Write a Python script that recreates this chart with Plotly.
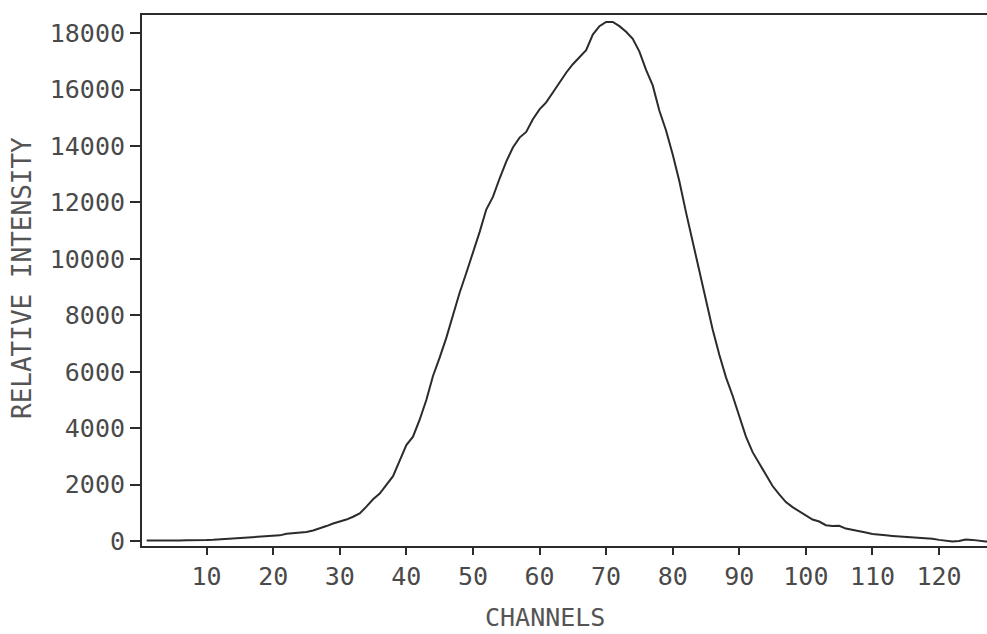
import plotly.graph_objects as go

channels = list(range(1, 129))
intensity = [
    20, 15, 20, 10, 15, 20, 25, 20, 30, 35,
    45, 60, 70, 80, 100, 110, 130, 150, 165, 175,
    200, 260, 280, 295, 320, 370, 440, 530, 620, 680,
    760, 860, 980, 1220, 1480, 1680, 2000, 2300, 2850, 3400,
    3700, 4300, 5000, 5850, 6500, 7200, 8000, 8800, 9500, 10200,
    10950, 11750, 12200, 12850, 13450, 13950, 14300, 14500, 14950, 15300,
    15550, 15900, 16250, 16600, 16900, 17150, 17400, 17950, 18250, 18400,
    18400, 18250, 18050, 17800, 17350, 16700, 16150, 15250, 14550, 13700,
    12750, 11650, 10600, 9550, 8550, 7500, 6600, 5800, 5150, 4400,
    3700, 3150, 2750, 2350, 1950, 1650, 1380, 1200, 1050, 900,
    760, 690, 560, 530, 540, 440, 400, 340, 300, 250,
    215, 200, 180, 165, 150, 140, 120, 100, 80, 40,
    10, -20, 0, 50, 40, 0, -20, -10,
]

x_ticks = list(range(10, 130, 10))
y_ticks = list(range(0, 20000, 2000))

FONT = "DejaVu Sans Mono"
INK = "#2b2b2b"
TXT = "#4a4a4a"

fig = go.Figure()
fig.add_trace(go.Scatter(
    x=channels, y=intensity, mode="lines",
    line=dict(color=INK, width=2), showlegend=False,
))

fig.update_layout(
    width=987, height=634,
    margin=dict(l=142, r=0, t=15, b=88),
    paper_bgcolor="white", plot_bgcolor="white",
    font=dict(family=FONT, size=25, color=TXT),
    xaxis=dict(
        range=[0.3, 127.2], tickvals=x_ticks, ticktext=[str(v) for v in x_ticks],
        showgrid=False, zeroline=False, showline=True, linecolor=INK, linewidth=2,
        mirror=True, ticks="outside", ticklen=7, tickwidth=1.5, tickcolor=INK,
        tickfont=dict(family=FONT, size=25, color=TXT), ticklabelstandoff=0,
    ),
    yaxis=dict(
        range=[-177, 18646], tickvals=y_ticks, ticktext=[str(v) for v in y_ticks],
        showgrid=False, zeroline=False, showline=True, linecolor=INK, linewidth=2,
        mirror=False, ticks="outside", ticklen=10, tickwidth=1.5, tickcolor=INK,
        tickfont=dict(family=FONT, size=25, color=TXT), ticklabelstandoff=0,
    ),
    annotations=[
        dict(text="RELATIVE INTENSITY", textangle=-90, xref="paper", yref="paper",
             x=(22 - 142) / 845, y=(546 - 278) / 531, showarrow=False,
             xanchor="center", yanchor="middle",
             font=dict(family=FONT, size=26, color="#555")),
        dict(text="CHANNELS", xref="paper", yref="paper",
             x=(545 - 142) / 845, y=-(634 - 546) / 531, showarrow=False,
             xanchor="center", yanchor="bottom",
             font=dict(family=FONT, size=25, color="#555")),
    ],
)

fig.write_html("out.html")
